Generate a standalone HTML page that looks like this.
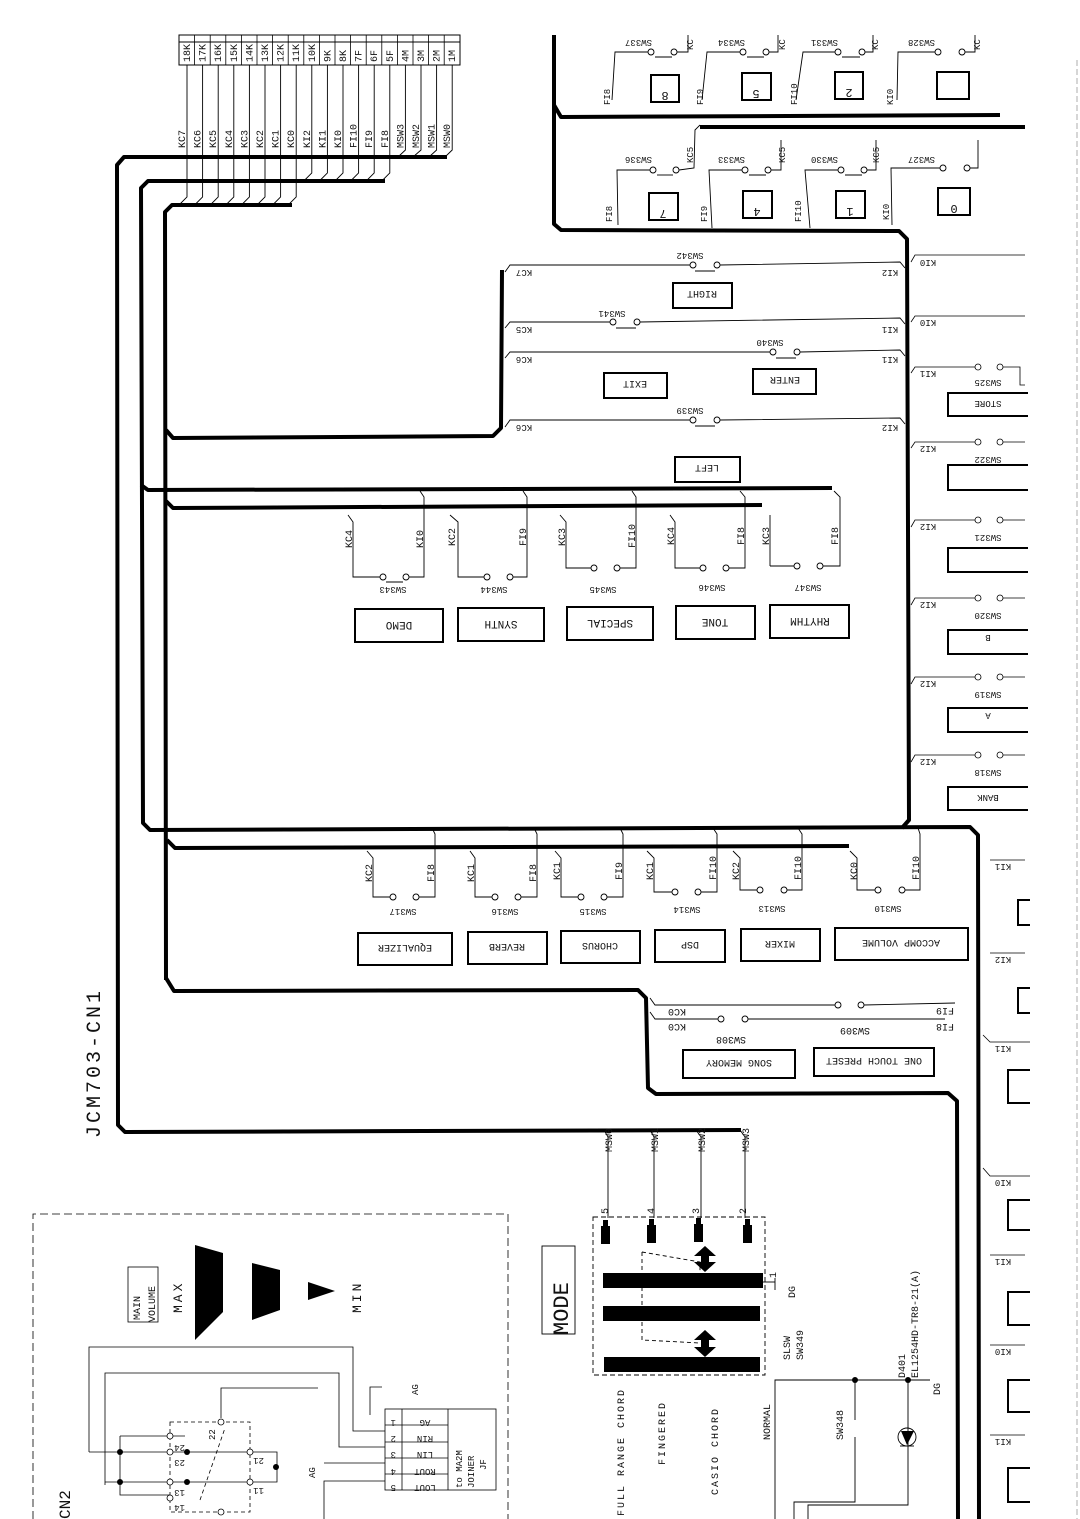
<!DOCTYPE html>
<html><head><meta charset="utf-8"><style>
html,body{margin:0;padding:0;background:#fff}
svg{display:block}
text{font-family:"Liberation Mono",monospace;fill:#111}
</style></head><body>
<svg width="1080" height="1519" viewBox="0 0 1080 1519" xmlns="http://www.w3.org/2000/svg">
<g fill="none" stroke="#000" stroke-width="1">
<rect x="179" y="35" width="281" height="30"/>
<line x1="179" y1="42" x2="460" y2="42"/>
<g stroke-width="0.8">
<line x1="194.6" y1="35" x2="194.6" y2="65"/><line x1="210.2" y1="35" x2="210.2" y2="65"/><line x1="225.8" y1="35" x2="225.8" y2="65"/><line x1="241.4" y1="35" x2="241.4" y2="65"/><line x1="257" y1="35" x2="257" y2="65"/><line x1="272.6" y1="35" x2="272.6" y2="65"/><line x1="288.2" y1="35" x2="288.2" y2="65"/><line x1="303.8" y1="35" x2="303.8" y2="65"/><line x1="319.4" y1="35" x2="319.4" y2="65"/><line x1="335" y1="35" x2="335" y2="65"/><line x1="350.6" y1="35" x2="350.6" y2="65"/><line x1="366.2" y1="35" x2="366.2" y2="65"/><line x1="381.8" y1="35" x2="381.8" y2="65"/><line x1="397.4" y1="35" x2="397.4" y2="65"/><line x1="413" y1="35" x2="413" y2="65"/><line x1="428.6" y1="35" x2="428.6" y2="65"/><line x1="444.2" y1="35" x2="444.2" y2="65"/>
</g>
<g stroke-width="0.9">
<polyline points="187,65 187,197 179,205"/><polyline points="202.6,65 202.6,197 194.6,205"/><polyline points="218.2,65 218.2,197 210.2,205"/><polyline points="233.8,65 233.8,197 225.8,205"/><polyline points="249.4,65 249.4,197 241.4,205"/><polyline points="265,65 265,197 257,205"/><polyline points="280.6,65 280.6,197 272.6,205"/><polyline points="296.2,65 296.2,197 288.2,205"/>
<polyline points="311.8,65 311.8,173 303.8,181"/><polyline points="327.4,65 327.4,173 319.4,181"/><polyline points="343,65 343,173 335,181"/><polyline points="358.6,65 358.6,173 350.6,181"/><polyline points="374.2,65 374.2,173 366.2,181"/><polyline points="389.8,65 389.8,173 381.8,181"/>
<polyline points="405.4,65 405.4,150 398,157"/><polyline points="421,65 421,150 413,157"/><polyline points="436.6,65 436.6,150 429,157"/><polyline points="452.2,65 452.2,150 445,157"/>
</g>
</g>
<g font-size="10">
<text transform="translate(190,62) rotate(-90)">18K</text><text transform="translate(205.6,62) rotate(-90)">17K</text><text transform="translate(221.2,62) rotate(-90)">16K</text><text transform="translate(236.8,62) rotate(-90)">15K</text><text transform="translate(252.4,62) rotate(-90)">14K</text><text transform="translate(268,62) rotate(-90)">13K</text><text transform="translate(283.6,62) rotate(-90)">12K</text><text transform="translate(299.2,62) rotate(-90)">11K</text><text transform="translate(314.8,62) rotate(-90)">10K</text><text transform="translate(330.4,62) rotate(-90)">9K</text><text transform="translate(346,62) rotate(-90)">8K</text><text transform="translate(361.6,62) rotate(-90)">7F</text><text transform="translate(377.2,62) rotate(-90)">6F</text><text transform="translate(392.8,62) rotate(-90)">5F</text><text transform="translate(408.4,62) rotate(-90)">4M</text><text transform="translate(424,62) rotate(-90)">3M</text><text transform="translate(439.6,62) rotate(-90)">2M</text><text transform="translate(455.2,62) rotate(-90)">1M</text>
</g>
<g font-size="10">
<text transform="translate(185,148) rotate(-90)">KC7</text><text transform="translate(200.6,148) rotate(-90)">KC6</text><text transform="translate(216.2,148) rotate(-90)">KC5</text><text transform="translate(231.8,148) rotate(-90)">KC4</text><text transform="translate(247.4,148) rotate(-90)">KC3</text><text transform="translate(263,148) rotate(-90)">KC2</text><text transform="translate(278.6,148) rotate(-90)">KC1</text><text transform="translate(294.2,148) rotate(-90)">KC0</text><text transform="translate(309.8,148) rotate(-90)">KI2</text><text transform="translate(325.4,148) rotate(-90)">KI1</text><text transform="translate(341,148) rotate(-90)">KI0</text><text transform="translate(356.6,148) rotate(-90)">FI10</text><text transform="translate(372.2,148) rotate(-90)">FI9</text><text transform="translate(387.8,148) rotate(-90)">FI8</text><text transform="translate(403.4,148) rotate(-90)">MSW3</text><text transform="translate(419,148) rotate(-90)">MSW2</text><text transform="translate(434.6,148) rotate(-90)">MSW1</text><text transform="translate(450.2,148) rotate(-90)">MSW0</text>
</g>

<g fill="none" stroke="#000" stroke-width="4" stroke-linejoin="round">
<polyline points="447,157 124,157 117,165 118,1125 125,1132 741,1130"/>
<polyline points="385,181 148,181 141,188 143,823 150,830 970,827 978,835 979,1519"/>
<polyline points="832,488 148,490 141,485"/>
<polyline points="292,205 172,205 165,212 166,980"/>
<polyline points="166,430 173,438 493,436 501,428 502,270"/>
<polyline points="762,505 173,508 166,501"/>
<polyline points="849,846 175,848 167,840"/>
<polyline points="166,978 174,991 638,990 646,998 648,1088 656,1094 948,1093 957,1101 958,1519"/>
<polyline points="554,35 554,224 561,230 899,231 907,239 909,820 902,828"/>
<polyline points="554,105 561,117 1000,115"/>
<polyline points="700,127 1025,127"/>
</g>

<g fill="none" stroke="#000" stroke-width="0.9">
<polyline points="612,100 615,52 648,52"/><circle cx="651" cy="52" r="3"/><circle cx="674" cy="52" r="3"/><polyline points="677,52 688,52 688,35"/><line x1="655" y1="57" x2="672" y2="57"/>
<polyline points="702,100 707,52 740,52"/><circle cx="743" cy="52" r="3"/><circle cx="766" cy="52" r="3"/><polyline points="769,52 778,52 778,35"/><line x1="747" y1="57" x2="764" y2="57"/>
<polyline points="796,100 803,52 835,52"/><circle cx="838" cy="52" r="3"/><circle cx="862" cy="52" r="3"/><polyline points="865,52 873,52 873,35"/><line x1="842" y1="57" x2="860" y2="57"/>
<polyline points="897,100 898,52 935,52"/><circle cx="938" cy="52" r="3"/><circle cx="962" cy="52" r="3"/><polyline points="965,52 975,52 975,35"/>
<polyline points="618,225 617,170 650,170"/><circle cx="653" cy="170" r="3"/><circle cx="676" cy="170" r="3"/><polyline points="679,170 694,168 695,130 700,125"/><line x1="657" y1="175" x2="673" y2="175"/>
<polyline points="712,228 709,170 742,170"/><circle cx="745" cy="170" r="3"/><circle cx="768" cy="170" r="3"/><polyline points="771,170 781,170 781,140"/><line x1="749" y1="175" x2="766" y2="175"/>
<polyline points="810,228 805,170 838,170"/><circle cx="841" cy="170" r="3"/><circle cx="864" cy="170" r="3"/><polyline points="867,170 876,170 876,140"/><line x1="845" y1="175" x2="862" y2="175"/>
<polyline points="892,225 891,168 940,168"/><circle cx="943" cy="168" r="3"/><circle cx="967" cy="168" r="3"/><polyline points="970,168 978,168 978,140"/>
</g>
<g fill="none" stroke="#000" stroke-width="2">
<rect x="651" y="75" width="28" height="27"/><rect x="742" y="73" width="29" height="27"/><rect x="835" y="72" width="28" height="27"/><rect x="937" y="72" width="32" height="27"/>
<rect x="649" y="193" width="29" height="27"/><rect x="743" y="191" width="29" height="27"/><rect x="836" y="191" width="29" height="27"/><rect x="938" y="188" width="32" height="27"/>
</g>
<g font-size="12" text-anchor="middle">
<text transform="translate(665,88) rotate(180)" dy="-4">8</text><text transform="translate(756,86) rotate(180)" dy="-4">5</text><text transform="translate(849,85) rotate(180)" dy="-4">2</text>
<text transform="translate(663,206) rotate(180)" dy="-4">7</text><text transform="translate(757,204) rotate(180)" dy="-4">4</text><text transform="translate(850,204) rotate(180)" dy="-4">1</text><text transform="translate(954,201) rotate(180)" dy="-4">0</text>
</g>
<g font-size="9">
<text transform="translate(652,40) rotate(180)">SW337</text><text transform="translate(745,40) rotate(180)">SW334</text><text transform="translate(838,40) rotate(180)">SW331</text><text transform="translate(935,40) rotate(180)">SW328</text>
<text transform="translate(652,157) rotate(180)">SW336</text><text transform="translate(745,157) rotate(180)">SW333</text><text transform="translate(838,157) rotate(180)">SW330</text><text transform="translate(935,157) rotate(180)">SW327</text>
<text transform="translate(610,105) rotate(-90)">FI8</text><text transform="translate(703,105) rotate(-90)">FI9</text><text transform="translate(797,105) rotate(-90)">FI10</text><text transform="translate(893,105) rotate(-90)">KI0</text>
<text transform="translate(612,222) rotate(-90)">FI8</text><text transform="translate(707,222) rotate(-90)">FI9</text><text transform="translate(801,222) rotate(-90)">FI10</text><text transform="translate(889,220) rotate(-90)">KI0</text>
<text transform="translate(693,50) rotate(-90)">KC</text><text transform="translate(785,50) rotate(-90)">KC</text><text transform="translate(878,50) rotate(-90)">KC</text><text transform="translate(980,50) rotate(-90)">KC</text>
<text transform="translate(693,163) rotate(-90)">KC5</text><text transform="translate(785,163) rotate(-90)">KC5</text><text transform="translate(879,163) rotate(-90)">KC5</text>
</g>

<g fill="none" stroke="#000" stroke-width="0.9">
<polyline points="505,272 510,265 690,265"/><circle cx="693" cy="265" r="3"/><circle cx="717" cy="265" r="3"/><polyline points="720,265 900,262 905,268"/><line x1="695" y1="271" x2="715" y2="271"/>
<polyline points="505,328 510,322 610,322"/><circle cx="613" cy="322" r="3"/><circle cx="637" cy="322" r="3"/><polyline points="640,322 900,318 905,324"/><line x1="616" y1="328" x2="636" y2="328"/>
<polyline points="505,358 510,352 770,352"/><circle cx="773" cy="352" r="3"/><circle cx="797" cy="352" r="3"/><polyline points="800,352 900,350 905,356"/><line x1="776" y1="358" x2="796" y2="358"/>
<polyline points="505,427 510,420 690,420"/><circle cx="693" cy="420" r="3"/><circle cx="717" cy="420" r="3"/><polyline points="720,420 900,418 905,424"/><line x1="695" y1="426" x2="715" y2="426"/>
</g>
<g fill="none" stroke="#000" stroke-width="2">
<rect x="673" y="283" width="59" height="25"/><rect x="604" y="373" width="63" height="25"/><rect x="753" y="369" width="63" height="25"/><rect x="675" y="457" width="65" height="25"/>
</g>
<g font-size="10" text-anchor="middle">
<text transform="translate(702,291) rotate(180)">RIGHT</text><text transform="translate(635,381) rotate(180)">EXIT</text><text transform="translate(785,377) rotate(180)">ENTER</text><text transform="translate(707,465) rotate(180)">LEFT</text>
</g>
<g font-size="9" text-anchor="middle">
<text transform="translate(690,253) rotate(180)">SW342</text><text transform="translate(612,311) rotate(180)">SW341</text><text transform="translate(770,340) rotate(180)">SW340</text><text transform="translate(690,408) rotate(180)">SW339</text>
<text transform="translate(524,270) rotate(180)">KC7</text><text transform="translate(524,327) rotate(180)">KC5</text><text transform="translate(524,357) rotate(180)">KC6</text><text transform="translate(524,425) rotate(180)">KC6</text>
<text transform="translate(890,270) rotate(180)">KI2</text><text transform="translate(890,327) rotate(180)">KI1</text><text transform="translate(890,357) rotate(180)">KI1</text><text transform="translate(890,425) rotate(180)">KI2</text>
</g>

<g fill="none" stroke="#000" stroke-width="0.8">
<polyline points="911,262 915,255 1025,255"/><polyline points="911,322 915,316 1025,316"/>
<polyline points="911,373 915,367 975,367"/><circle cx="978" cy="367" r="3"/><circle cx="1000" cy="367" r="3"/><polyline points="1003,367 1020,367 1020,385 1025,385"/>
<polyline points="911,448 915,442 975,442"/><circle cx="978" cy="442" r="3"/><circle cx="1000" cy="442" r="3"/><line x1="1003" y1="442" x2="1025" y2="442"/>
<polyline points="911,527 915,520 975,520"/><circle cx="978" cy="520" r="3"/><circle cx="1000" cy="520" r="3"/><line x1="1003" y1="520" x2="1025" y2="520"/>
<polyline points="911,605 915,598 975,598"/><circle cx="978" cy="598" r="3"/><circle cx="1000" cy="598" r="3"/><line x1="1003" y1="598" x2="1025" y2="598"/>
<polyline points="911,684 915,677 975,677"/><circle cx="978" cy="677" r="3"/><circle cx="1000" cy="677" r="3"/><line x1="1003" y1="677" x2="1025" y2="677"/>
<polyline points="911,762 915,755 975,755"/><circle cx="978" cy="755" r="3"/><circle cx="1000" cy="755" r="3"/><line x1="1003" y1="755" x2="1025" y2="755"/>
<line x1="990" y1="860" x2="1025" y2="860"/><line x1="990" y1="953" x2="1025" y2="953"/><polyline points="983,1035 990,1042 1030,1042"/><polyline points="983,1168 990,1176 1030,1176"/>
<line x1="990" y1="1255" x2="1025" y2="1255"/><line x1="990" y1="1345" x2="1025" y2="1345"/><line x1="990" y1="1435" x2="1025" y2="1435"/>
<line x1="1077" y1="60" x2="1077" y2="1519" stroke-dasharray="6,3" stroke="#999"/>
</g>
<g fill="none" stroke="#000" stroke-width="2">
<polyline points="1028,393 948,393 948,416 1028,416"/><polyline points="1028,465 948,465 948,490 1028,490"/><polyline points="1028,548 948,548 948,572 1028,572"/><polyline points="1028,630 948,630 948,654 1028,654"/><polyline points="1028,708 948,708 948,732 1028,732"/><polyline points="1028,787 948,787 948,810 1028,810"/>
<polyline points="1030,900 1018,900 1018,925 1030,925"/><polyline points="1030,988 1018,988 1018,1013 1030,1013"/><polyline points="1030,1070 1008,1070 1008,1103 1030,1103"/><polyline points="1030,1200 1008,1200 1008,1230 1030,1230"/><polyline points="1030,1292 1008,1292 1008,1325 1030,1325"/><polyline points="1030,1380 1008,1380 1008,1412 1030,1412"/><polyline points="1030,1468 1008,1468 1008,1502 1030,1502"/>
</g>
<g font-size="9" text-anchor="middle">
<text transform="translate(988,401) rotate(180)">STORE</text><text transform="translate(988,635) rotate(180)">B</text><text transform="translate(988,713) rotate(180)">A</text><text transform="translate(988,795) rotate(180)">BANK</text>
<text transform="translate(988,380) rotate(180)">SW325</text><text transform="translate(988,457) rotate(180)">SW322</text><text transform="translate(988,535) rotate(180)">SW321</text><text transform="translate(988,613) rotate(180)">SW320</text><text transform="translate(988,692) rotate(180)">SW319</text><text transform="translate(988,770) rotate(180)">SW318</text>
<text transform="translate(928,260) rotate(180)">KI0</text><text transform="translate(928,320) rotate(180)">KI0</text><text transform="translate(928,371) rotate(180)">KI1</text><text transform="translate(928,446) rotate(180)">KI2</text><text transform="translate(928,524) rotate(180)">KI2</text><text transform="translate(928,602) rotate(180)">KI2</text><text transform="translate(928,681) rotate(180)">KI2</text><text transform="translate(928,759) rotate(180)">KI2</text>
<text transform="translate(1003,864) rotate(180)">KI1</text><text transform="translate(1003,957) rotate(180)">KI2</text><text transform="translate(1003,1046) rotate(180)">KI1</text><text transform="translate(1003,1180) rotate(180)">KI0</text><text transform="translate(1003,1259) rotate(180)">KI1</text><text transform="translate(1003,1349) rotate(180)">KI0</text><text transform="translate(1003,1439) rotate(180)">KI1</text>
</g>

<g fill="none" stroke="#000" stroke-width="0.9">
<polyline points="348,515 353,522 353,577 380,577"/><circle cx="383" cy="577" r="3"/><circle cx="406" cy="577" r="3"/><polyline points="409,577 424,577 424,497 420,491"/><line x1="386" y1="582" x2="403" y2="582"/>
<polyline points="450,515 458,522 458,577 484,577"/><circle cx="487" cy="577" r="3"/><circle cx="510" cy="577" r="3"/><polyline points="513,577 527,577 527,497 523,491"/>
<polyline points="560,515 566,522 566,568 591,568"/><circle cx="594" cy="568" r="3"/><circle cx="617" cy="568" r="3"/><polyline points="620,568 636,568 636,497 632,491"/>
<polyline points="670,515 675,522 675,568 700,568"/><circle cx="703" cy="568" r="3"/><circle cx="726" cy="568" r="3"/><polyline points="729,568 745,568 745,497 740,491"/>
<line x1="770" y1="515" x2="770" y2="566"/><polyline points="770,566 794,566"/><circle cx="797" cy="566" r="3"/><circle cx="820" cy="566" r="3"/><polyline points="823,566 840,566 840,497 834,491"/>
</g>
<g fill="none" stroke="#000" stroke-width="2">
<rect x="355" y="609" width="88" height="33"/><rect x="458" y="608" width="86" height="33"/><rect x="567" y="607" width="86" height="33"/><rect x="676" y="606" width="79" height="33"/><rect x="770" y="605" width="79" height="33"/>
</g>
<g font-size="11" text-anchor="middle">
<text transform="translate(399,622) rotate(180)">DEMO</text><text transform="translate(501,621) rotate(180)">SYNTH</text><text transform="translate(610,620) rotate(180)">SPECIAL</text><text transform="translate(715,619) rotate(180)">TONE</text><text transform="translate(810,618) rotate(180)">RHYTHM</text>
</g>
<g font-size="9" text-anchor="middle">
<text transform="translate(393,587) rotate(180)">SW343</text><text transform="translate(494,587) rotate(180)">SW344</text><text transform="translate(603,587) rotate(180)">SW345</text><text transform="translate(712,585) rotate(180)">SW346</text><text transform="translate(808,585) rotate(180)">SW347</text>
</g>
<g font-size="10">
<text transform="translate(352,548) rotate(-90)">KC4</text><text transform="translate(423,548) rotate(-90)">KI0</text><text transform="translate(455,546) rotate(-90)">KC2</text><text transform="translate(526,546) rotate(-90)">FI9</text><text transform="translate(565,546) rotate(-90)">KC3</text><text transform="translate(635,548) rotate(-90)">FI10</text><text transform="translate(674,545) rotate(-90)">KC4</text><text transform="translate(744,545) rotate(-90)">FI8</text><text transform="translate(769,545) rotate(-90)">KC3</text><text transform="translate(838,545) rotate(-90)">FI8</text>
</g>

<g fill="none" stroke="#000" stroke-width="0.9">
<polyline points="367,851 373,858 373,897 390,897"/><circle cx="393" cy="897" r="3"/><circle cx="416" cy="897" r="3"/><polyline points="419,897 435,897 435,834 432,828"/>
<polyline points="470,851 475,858 475,897 492,897"/><circle cx="495" cy="897" r="3"/><circle cx="518" cy="897" r="3"/><polyline points="521,897 537,897 537,834 534,828"/>
<polyline points="555,851 561,858 561,897 578,897"/><circle cx="581" cy="897" r="3"/><circle cx="604" cy="897" r="3"/><polyline points="607,897 623,897 623,834 620,828"/>
<polyline points="647,851 654,858 654,892 672,892"/><circle cx="675" cy="892" r="3"/><circle cx="698" cy="892" r="3"/><polyline points="701,892 717,892 717,834 713,828"/>
<polyline points="733,851 740,858 740,890 757,890"/><circle cx="760" cy="890" r="3"/><circle cx="784" cy="890" r="3"/><polyline points="787,890 802,890 802,834 798,828"/>
<polyline points="850,851 857,858 857,890 875,890"/><circle cx="878" cy="890" r="3"/><circle cx="902" cy="890" r="3"/><polyline points="905,890 920,890 920,834 918,828"/>
</g>
<g fill="none" stroke="#000" stroke-width="2">
<rect x="358" y="933" width="94" height="32"/><rect x="468" y="932" width="79" height="32"/><rect x="561" y="931" width="79" height="32"/><rect x="655" y="930" width="70" height="32"/><rect x="741" y="929" width="79" height="32"/><rect x="835" y="928" width="133" height="32"/>
</g>
<g font-size="10" text-anchor="middle">
<text transform="translate(405,945) rotate(180)">EQUALIZER</text><text transform="translate(507,944) rotate(180)">REVERB</text><text transform="translate(600,943) rotate(180)">CHORUS</text><text transform="translate(690,942) rotate(180)">DSP</text><text transform="translate(780,941) rotate(180)">MIXER</text><text transform="translate(901,940) rotate(180)">ACCOMP VOLUME</text>
</g>
<g font-size="9" text-anchor="middle">
<text transform="translate(403,909) rotate(180)">SW317</text><text transform="translate(505,909) rotate(180)">SW316</text><text transform="translate(593,909) rotate(180)">SW315</text><text transform="translate(687,907) rotate(180)">SW314</text><text transform="translate(772,906) rotate(180)">SW313</text><text transform="translate(888,906) rotate(180)">SW310</text>
</g>
<g font-size="10">
<text transform="translate(372,882) rotate(-90)">KC2</text><text transform="translate(434,882) rotate(-90)">FI8</text><text transform="translate(474,882) rotate(-90)">KC1</text><text transform="translate(536,882) rotate(-90)">FI8</text><text transform="translate(560,880) rotate(-90)">KC1</text><text transform="translate(622,880) rotate(-90)">FI9</text><text transform="translate(653,880) rotate(-90)">KC1</text><text transform="translate(716,880) rotate(-90)">FI10</text><text transform="translate(739,880) rotate(-90)">KC2</text><text transform="translate(801,880) rotate(-90)">FI10</text><text transform="translate(857,880) rotate(-90)">KC0</text><text transform="translate(919,880) rotate(-90)">FI10</text>
</g>

<g fill="none" stroke="#000" stroke-width="0.9">
<polyline points="650,998 655,1005 835,1005"/><circle cx="838" cy="1005" r="3"/><circle cx="861" cy="1005" r="3"/><line x1="864" y1="1005" x2="955" y2="1003"/>
<polyline points="650,1012 655,1019 718,1019"/><circle cx="721" cy="1019" r="3"/><circle cx="745" cy="1019" r="3"/><line x1="748" y1="1019" x2="945" y2="1019"/>
</g>
<g fill="none" stroke="#000" stroke-width="2">
<rect x="683" y="1050" width="112" height="28"/><rect x="814" y="1048" width="120" height="28"/>
</g>
<g font-size="10" text-anchor="middle">
<text transform="translate(739,1060) rotate(180)">SONG MEMORY</text><text transform="translate(874,1058) rotate(180)">ONE TOUCH PRESET</text>
<text transform="translate(731,1037) rotate(180)">SW308</text><text transform="translate(855,1028) rotate(180)">SW309</text>
<text transform="translate(677,1009) rotate(180)">KC0</text><text transform="translate(677,1024) rotate(180)">KC0</text><text transform="translate(945,1008) rotate(180)">FI9</text><text transform="translate(945,1024) rotate(180)">FI8</text>
</g>

<text transform="translate(100,1138) rotate(-90)" font-size="20" font-family="Liberation Sans, sans-serif" fill="#333" letter-spacing="3">JCM703-CN1</text>

<g fill="none" stroke="#000" stroke-width="0.9">
<polyline points="604,1130 608,1137 608,1218"/><polyline points="650,1130 654,1137 654,1218"/><polyline points="696,1130 701,1137 701,1218"/><polyline points="740,1130 745,1137 745,1218"/>
<rect x="593" y="1217" width="172" height="158" stroke-dasharray="5,3"/>
<polyline points="642,1252 700,1262 700,1280" stroke-dasharray="4,3"/>
<polyline points="642,1252 642,1340 700,1343" stroke-dasharray="4,3"/>
<polyline points="763,1282 775,1282"/><line x1="775" y1="1278" x2="775" y2="1290"/>
<rect x="542" y="1246" width="33" height="88"/>
</g>
<g fill="#000">
<rect x="601" y="1226" width="9" height="18"/><rect x="647" y="1225" width="9" height="18"/><rect x="694" y="1224" width="9" height="18"/><rect x="743" y="1225" width="9" height="18"/>
<rect x="603" y="1220" width="5" height="8"/><rect x="649" y="1219" width="5" height="8"/><rect x="696" y="1218" width="5" height="8"/><rect x="745" y="1219" width="5" height="8"/>
<rect x="603" y="1273" width="160" height="15"/><rect x="603" y="1306" width="157" height="15"/><rect x="604" y="1357" width="156" height="15"/>
<polygon points="705,1246 716,1256 709,1256 709,1262 716,1262 705,1272 694,1262 701,1262 701,1256 694,1256"/>
<polygon points="705,1330 716,1340 709,1340 709,1347 716,1347 705,1357 694,1347 701,1347 701,1340 694,1340"/>
<polygon points="901,1431 914,1431 907,1445"/>
<circle cx="855" cy="1380" r="3"/><circle cx="908" cy="1380" r="3"/>
</g>
<g font-size="10">
<text transform="translate(612,1152) rotate(-90)">MSW0</text><text transform="translate(658,1152) rotate(-90)">MSW1</text><text transform="translate(705,1152) rotate(-90)">MSW2</text><text transform="translate(749,1152) rotate(-90)">MSW3</text>
<text transform="translate(608,1214) rotate(-90)">5</text><text transform="translate(654,1214) rotate(-90)">4</text><text transform="translate(699,1214) rotate(-90)">3</text><text transform="translate(746,1214) rotate(-90)">2</text><text transform="translate(776,1278) rotate(-90)">1</text>
<text transform="translate(624,1516) rotate(-90)" letter-spacing="2">FULL RANGE CHORD</text>
<text transform="translate(665,1465) rotate(-90)" letter-spacing="2">FINGERED</text>
<text transform="translate(718,1495) rotate(-90)" letter-spacing="2">CASIO CHORD</text>
<text transform="translate(770,1440) rotate(-90)">NORMAL</text>
<text transform="translate(790,1360) rotate(-90)">SLSW</text><text transform="translate(803,1360) rotate(-90)">SW349</text>
<text transform="translate(795,1298) rotate(-90)">DG</text><text transform="translate(905,1378) rotate(-90)">D401</text><text transform="translate(918,1378) rotate(-90)">EL1254HD-TR8-21(A)</text><text transform="translate(940,1395) rotate(-90)">DG</text>
<text transform="translate(843,1440) rotate(-90)">SW348</text>
</g>
<text transform="translate(568,1335) rotate(-90)" font-size="22" font-family="Liberation Sans, sans-serif" fill="#444">MODE</text>
<g fill="none" stroke="#000" stroke-width="0.9">
<polyline points="775,1519 775,1380 930,1380"/><line x1="855" y1="1380" x2="855" y2="1420"/><polyline points="855,1437 855,1502 794,1502 794,1519"/>
<polyline points="908,1380 908,1505 808,1505 808,1519"/><circle cx="907" cy="1437" r="9"/><line x1="900" y1="1446" x2="914" y2="1446"/>
</g>

<g fill="none" stroke="#000" stroke-width="0.8">
<polyline points="33,1519 33,1214 508,1214 508,1519" stroke-dasharray="8,4"/>
<rect x="128" y="1267" width="30" height="55"/>
<polyline points="89,1452 89,1347 353,1347 353,1431 385,1431"/>
<polyline points="105,1485 105,1373 339,1373 339,1447 385,1447"/>
<polyline points="221,1418 221,1388 318,1388"/>
<polyline points="324,1463 385,1463"/><polyline points="324,1519 324,1481 385,1481"/>
<polyline points="370,1415 370,1387 382,1387"/>
<rect x="170" y="1422" width="80" height="90" stroke-dasharray="4,3"/>
<rect x="385" y="1409" width="111" height="81"/>
<line x1="402" y1="1409" x2="402" y2="1490"/><line x1="448" y1="1409" x2="448" y2="1490"/>
<line x1="385" y1="1425" x2="448" y2="1425"/><line x1="385" y1="1442" x2="448" y2="1442"/><line x1="385" y1="1458" x2="448" y2="1458"/><line x1="385" y1="1474" x2="448" y2="1474"/>
<polyline points="89,1452 185,1452"/><polyline points="105,1482 185,1482"/><polyline points="120,1436 120,1495 170,1495"/><polyline points="120,1436 185,1436"/>
<polyline points="185,1452 250,1452"/><polyline points="185,1482 250,1482"/><polyline points="250,1452 277,1452 277,1482 250,1482"/>
<line x1="200" y1="1500" x2="225" y2="1428" stroke-dasharray="4,3"/>
</g>
<g fill="#000">
<polygon points="195,1245 223,1253 223,1312 195,1340"/><polygon points="252,1263 280,1270 280,1310 252,1320"/><polygon points="308,1282 335,1291 308,1300"/>
<circle cx="120" cy="1452" r="3"/><circle cx="120" cy="1482" r="3"/><circle cx="187" cy="1452" r="3"/><circle cx="187" cy="1482" r="3"/><circle cx="276" cy="1467" r="3"/>
</g>
<g fill="#fff" stroke="#000" stroke-width="0.8">
<circle cx="170" cy="1436" r="3"/><circle cx="170" cy="1452" r="3"/><circle cx="170" cy="1482" r="3"/><circle cx="170" cy="1498" r="3"/><circle cx="221" cy="1422" r="3"/><circle cx="250" cy="1452" r="3"/><circle cx="250" cy="1482" r="3"/><circle cx="221" cy="1512" r="3"/>
</g>
<g font-size="10">
<text transform="translate(140,1320) rotate(-90)">MAIN</text><text transform="translate(155,1322) rotate(-90)">VOLUME</text>
<text transform="translate(182,1313) rotate(-90)" font-size="13" letter-spacing="3">MAX</text>
<text transform="translate(361,1313) rotate(-90)" font-size="13" letter-spacing="3">MIN</text>
<text transform="translate(70,1519) rotate(-90)" font-size="16" font-family="Liberation Sans, sans-serif">CN2</text>
<text transform="translate(215,1440) rotate(-90)" font-size="9">22</text>
<text transform="translate(185,1445) rotate(180)" font-size="9">24</text><text transform="translate(185,1460) rotate(180)" font-size="9">23</text><text transform="translate(185,1490) rotate(180)" font-size="9">13</text><text transform="translate(185,1505) rotate(180)" font-size="9">14</text>
<text transform="translate(264,1458) rotate(180)" font-size="9">21</text><text transform="translate(264,1488) rotate(180)" font-size="9">11</text>
<text transform="translate(396,1420) rotate(180)" font-size="9">1</text><text transform="translate(396,1436) rotate(180)" font-size="9">2</text><text transform="translate(396,1452) rotate(180)" font-size="9">3</text><text transform="translate(396,1469) rotate(180)" font-size="9">4</text><text transform="translate(396,1485) rotate(180)" font-size="9">5</text>
<text transform="translate(425,1420) rotate(180)" font-size="9" text-anchor="middle">AG</text><text transform="translate(425,1436) rotate(180)" font-size="9" text-anchor="middle">RIN</text><text transform="translate(425,1452) rotate(180)" font-size="9" text-anchor="middle">LIN</text><text transform="translate(425,1469) rotate(180)" font-size="9" text-anchor="middle">ROUT</text><text transform="translate(425,1485) rotate(180)" font-size="9" text-anchor="middle">LOUT</text>
<text transform="translate(462,1488) rotate(-90)" font-size="9">to MA2M</text><text transform="translate(474,1488) rotate(-90)" font-size="9">JOINER</text><text transform="translate(486,1470) rotate(-90)" font-size="9">JF</text>
<text transform="translate(418,1395) rotate(-90)" font-size="9">AG</text><text transform="translate(315,1478) rotate(-90)" font-size="9">AG</text>
</g>
</svg>
</body></html>
